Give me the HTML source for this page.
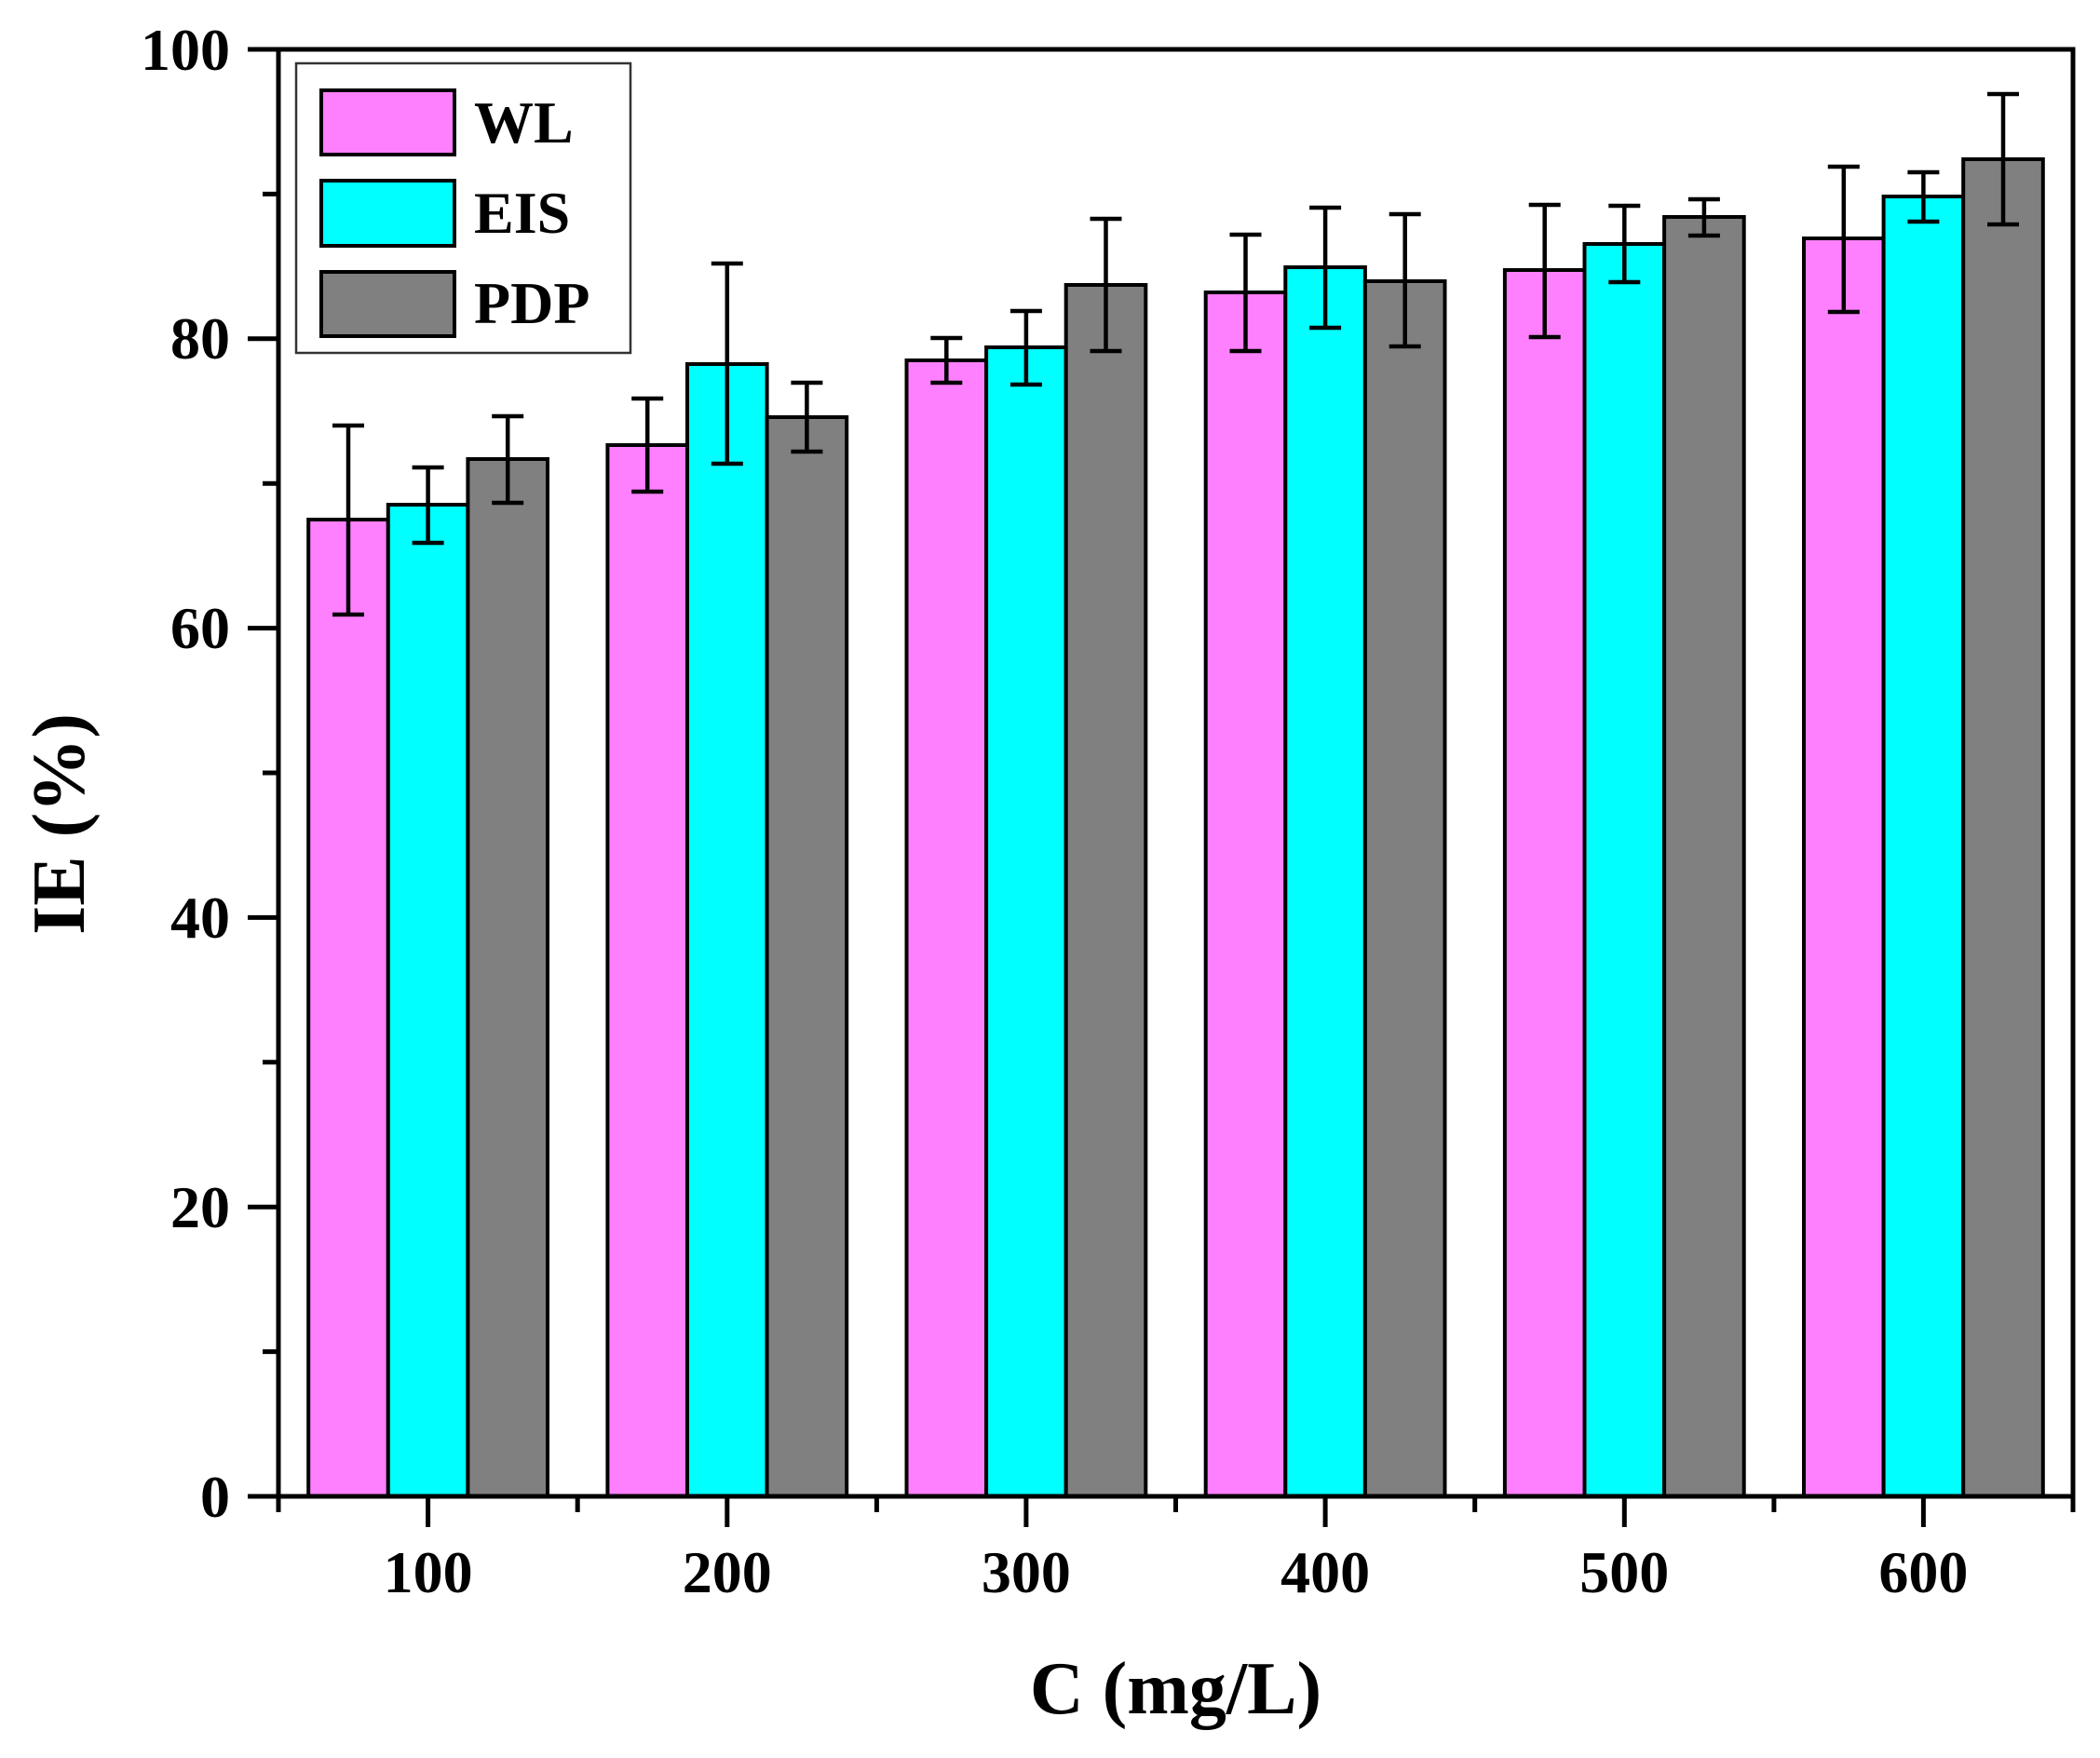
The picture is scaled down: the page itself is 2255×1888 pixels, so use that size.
<!DOCTYPE html>
<html><head><meta charset="utf-8"><style>
html,body{margin:0;padding:0;background:#fff;}
svg{display:block;}
text{font-family:"Liberation Serif","Times New Roman",serif;font-weight:bold;fill:#000;}
</style></head><body>
<svg width="2255" height="1888" viewBox="0 0 2255 1888" xmlns="http://www.w3.org/2000/svg">
<rect x="0" y="0" width="2255" height="1888" fill="#fff"/>
<g stroke="#000" stroke-width="4">
<!-- 100 -->
<rect x="331.2" y="558" width="85.6" height="1049" fill="#FF80FF"/>
<rect x="416.8" y="542" width="85.6" height="1065" fill="#00FFFF"/>
<rect x="502.4" y="493" width="85.6" height="1114" fill="#808080"/>
<!-- 200 -->
<rect x="652.4" y="478" width="85.6" height="1129" fill="#FF80FF"/>
<rect x="738.0" y="391" width="85.6" height="1216" fill="#00FFFF"/>
<rect x="823.6" y="448" width="85.6" height="1159" fill="#808080"/>
<!-- 300 -->
<rect x="973.5" y="387" width="85.6" height="1220" fill="#FF80FF"/>
<rect x="1059.1" y="373" width="85.6" height="1234" fill="#00FFFF"/>
<rect x="1144.7" y="306" width="85.6" height="1301" fill="#808080"/>
<!-- 400 -->
<rect x="1294.7" y="314" width="85.6" height="1293" fill="#FF80FF"/>
<rect x="1380.3" y="287" width="85.6" height="1320" fill="#00FFFF"/>
<rect x="1465.9" y="302" width="85.6" height="1305" fill="#808080"/>
<!-- 500 -->
<rect x="1615.9" y="290" width="85.6" height="1317" fill="#FF80FF"/>
<rect x="1701.5" y="262" width="85.6" height="1345" fill="#00FFFF"/>
<rect x="1787.1" y="233" width="85.6" height="1374" fill="#808080"/>
<!-- 600 -->
<rect x="1937.0" y="256" width="85.6" height="1351" fill="#FF80FF"/>
<rect x="2022.6" y="211" width="85.6" height="1396" fill="#00FFFF"/>
<rect x="2108.2" y="171" width="85.6" height="1436" fill="#808080"/>
</g>
<!-- error bars -->
<g stroke="#000" stroke-width="4.5" fill="none">
<path d="M374.0 457V660M357 457H391M357 660H391"/>
<path d="M459.6 502V583M442.6 502H476.6M442.6 583H476.6"/>
<path d="M545.2 447V540M528.2 447H562.2M528.2 540H562.2"/>
<path d="M695.2 428V528M678.2 428H712.2M678.2 528H712.2"/>
<path d="M780.8 283V498M763.8 283H797.8M763.8 498H797.8"/>
<path d="M866.4 411V485M849.4 411H883.4M849.4 485H883.4"/>
<path d="M1016.3 363V411M999.3 363H1033.3M999.3 411H1033.3"/>
<path d="M1101.9 334V413M1084.9 334H1118.9M1084.9 413H1118.9"/>
<path d="M1187.5 235V377M1170.5 235H1204.5M1170.5 377H1204.5"/>
<path d="M1337.5 252V377M1320.5 252H1354.5M1320.5 377H1354.5"/>
<path d="M1423.1 223V352M1406.1 223H1440.1M1406.1 352H1440.1"/>
<path d="M1508.7 230V372M1491.7 230H1525.7M1491.7 372H1525.7"/>
<path d="M1658.7 220V362M1641.7 220H1675.7M1641.7 362H1675.7"/>
<path d="M1744.3 221V303M1727.3 221H1761.3M1727.3 303H1761.3"/>
<path d="M1829.9 214V253M1812.9 214H1846.9M1812.9 253H1846.9"/>
<path d="M1979.8 179V335M1962.8 179H1996.8M1962.8 335H1996.8"/>
<path d="M2065.4 185V238M2048.4 185H2082.4M2048.4 238H2082.4"/>
<path d="M2151.0 101V241M2134.0 101H2168.0M2134.0 241H2168.0"/>
</g>
<!-- axes frame -->
<rect x="299" y="53" width="1927" height="1554" fill="none" stroke="#000" stroke-width="5"/>
<g stroke="#000" stroke-width="5">
<!-- y major ticks -->
<path d="M266 1607H299M266 1296.2H299M266 985.4H299M266 674.6H299M266 363.8H299M266 53H299"/>
<!-- y minor ticks -->
<path d="M282 1451.6H299M282 1140.8H299M282 830H299M282 519.2H299M282 208.4H299"/>
<!-- x major ticks -->
<path d="M459.6 1607V1640M780.8 1607V1640M1101.9 1607V1640M1423.1 1607V1640M1744.3 1607V1640M2065.4 1607V1640"/>
<!-- x minor ticks -->
<path d="M299 1607V1624M620.2 1607V1624M941.4 1607V1624M1262.5 1607V1624M1583.7 1607V1624M1904.9 1607V1624M2226 1607V1624"/>
</g>
<!-- y tick labels -->
<g font-size="64" text-anchor="end">
<text x="247" y="1629">0</text>
<text x="247" y="1318">20</text>
<text x="247" y="1007">40</text>
<text x="247" y="696">60</text>
<text x="247" y="385">80</text>
<text x="247" y="75">100</text>
</g>
<!-- x tick labels -->
<g font-size="64" text-anchor="middle">
<text x="459.6" y="1710">100</text>
<text x="780.8" y="1710">200</text>
<text x="1101.9" y="1710">300</text>
<text x="1423.1" y="1710">400</text>
<text x="1744.3" y="1710">500</text>
<text x="2065.4" y="1710">600</text>
</g>
<!-- axis titles -->
<text x="1262.5" y="1840" font-size="80" text-anchor="middle">C (mg/L)</text>
<text transform="translate(90,885) rotate(-90)" x="0" y="0" font-size="80" text-anchor="middle">IE (%)</text>
<!-- legend -->
<rect x="318" y="68" width="359" height="311" fill="#fff" stroke="#333" stroke-width="2.5"/>
<g stroke="#000" stroke-width="4">
<rect x="345" y="97" width="143" height="69" fill="#FF80FF"/>
<rect x="345" y="194" width="143" height="70" fill="#00FFFF"/>
<rect x="345" y="292" width="143" height="69" fill="#808080"/>
</g>
<g font-size="64">
<text x="509" y="153">WL</text>
<text x="509" y="250">EIS</text>
<text x="509" y="347">PDP</text>
</g>
</svg>
</body></html>
